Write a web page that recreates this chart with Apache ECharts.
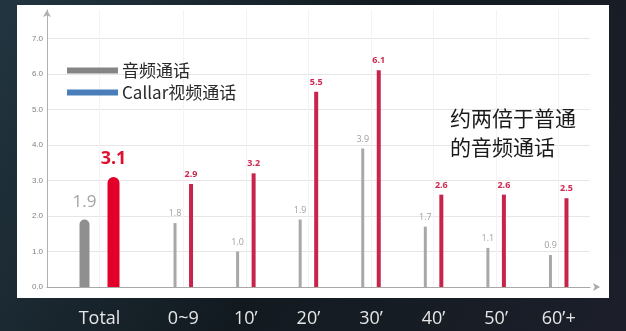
<!DOCTYPE html>
<html><head><meta charset="utf-8">
<script src="https://cdn.jsdelivr.net/npm/echarts@6/dist/echarts.min.js"></script>
<style>html,body{margin:0;padding:0;background:#141d24;}#c{width:626px;height:331px;}</style>
</head><body><div id="c"></div>
<script>
const categoriesTotal = ['Total'];
const categoriesDur = ['0~9', '10’', '20’', '30’', '40’', '50’', '60’+'];
const audioTotal = [1.9];
const videoTotal = [3.1];
const audioDur = [1.8, 1.0, 1.9, 3.9, 1.7, 1.1, 0.9];
const videoDur = [2.9, 3.2, 5.5, 6.1, 2.6, 2.6, 2.5];
const seriesNames = ['音频通话', 'Callar视频通话'];
const noteText = '约两倍于普通\n的音频通话';

const CJK = '"Noto Sans CJK SC", "Noto Sans", sans-serif';
const gridLineColors = ['#e6e6e6','#e6e6e6','#e6e6e6','#e6e6e6','#e6e6e6','#e6e6e6','#e6e6e6','#e6e6e6','rgba(0,0,0,0)'];

const chart = echarts.init(document.getElementById('c'), null, {renderer: 'canvas'});

const yBase = {
  type: 'value', min: 0, max: 7.8, interval: 1,
  splitLine: {show: true, lineStyle: {color: gridLineColors, width: 1}}
};
const xLabel = {color: '#e6e6e6', fontSize: 18, fontFamily: '"Open Sans", "Noto Sans", sans-serif', margin: 23};

chart.setOption({
  backgroundColor: {
    type: 'linear', x: 0, y: 0, x2: 1, y2: 1,
    colorStops: [{offset: 0, color: '#223540'}, {offset: 0.5, color: '#121a20'}, {offset: 1, color: '#1c1f2a'}]
  },
  graphic: [{
    type: 'rect', left: 17, top: 5, z: -10,
    shape: {width: 592, height: 293},
    style: {fill: '#ffffff'}
  }],
  title: {
    text: noteText, left: 445, top: 99,
    textStyle: {fontSize: 21, fontWeight: 'normal', color: '#1a1a1a', lineHeight: 29, fontFamily: CJK}
  },
  legend: {
    orient: 'vertical', left: 62, top: 57, itemGap: 5,
    itemWidth: 51, itemHeight: 6, icon: 'rect',
    textStyle: {fontSize: 17, color: '#2a2a2a', fontFamily: CJK, padding: [0, 0, 0, -1]},
    data: [
      {name: seriesNames[0], itemStyle: {color: '#858585'}},
      {name: seriesNames[1], itemStyle: {color: '#4a7ebb'}}
    ]
  },
  grid: [
    {left: 47, width: 105, top: 10, bottom: 44},
    {left: 152, right: 36, top: 10, bottom: 44}
  ],
  xAxis: [
    {type: 'category', gridIndex: 0, data: categoriesTotal,
     axisLine: {lineStyle: {color: '#a8a8a8', width: 1}},
     axisTick: {show: false}, axisLabel: xLabel,
     splitLine: {show: true, alignWithLabel: true, lineStyle: {color: '#f3f3f3'}}},
    {type: 'category', gridIndex: 1, data: categoriesDur,
     axisLine: {lineStyle: {color: '#a8a8a8', width: 1}, symbol: ['none', 'arrow'], symbolSize: [6, 7], symbolOffset: [0, 10]},
     axisTick: {show: false}, axisLabel: xLabel,
     splitLine: {show: true, alignWithLabel: true, lineStyle: {color: '#f3f3f3'}}}
  ],
  yAxis: [
    Object.assign({}, yBase, {gridIndex: 0,
      axisLine: {show: true, lineStyle: {color: '#b0b0b0', width: 1}, symbol: ['none', 'arrow'], symbolSize: [6, 7]},
      axisTick: {show: false},
      axisLabel: {fontSize: 8, color: '#808080', margin: 4,
        formatter: v => (Math.abs(v - Math.round(v)) < 1e-6 ? v.toFixed(1) : '')}}),
    Object.assign({}, yBase, {gridIndex: 1,
      axisLine: {show: false}, axisTick: {show: false}, axisLabel: {show: false}})
  ],
  series: [
    {name: seriesNames[0], type: 'bar', xAxisIndex: 0, yAxisIndex: 0, data: audioTotal,
     barWidth: 10, barGap: '180%',
     itemStyle: {color: '#8f8f8f', borderRadius: [5, 5, 0, 0]},
     label: {show: true, position: 'top', distance: 9, fontSize: 17, color: '#a3a3a3',
             fontFamily: '"Open Sans", sans-serif', formatter: p => p.value.toFixed(1)}},
    {name: seriesNames[1], type: 'bar', xAxisIndex: 0, yAxisIndex: 0, data: videoTotal,
     barWidth: 12, barGap: '180%',
     itemStyle: {color: '#e2002a', borderRadius: [6, 6, 0, 0]},
     label: {show: true, position: 'top', distance: 9, fontSize: 18, fontWeight: 'bold', color: '#e0102f',
             fontFamily: '"Open Sans", sans-serif', formatter: p => p.value.toFixed(1)}},
    {name: seriesNames[0], type: 'bar', xAxisIndex: 1, yAxisIndex: 1, data: audioDur,
     barWidth: 3, barGap: '417%',
     itemStyle: {color: '#a8a8a8'},
     label: {show: true, position: 'top', distance: 5, fontSize: 9, color: '#a0a0a0',
             fontFamily: '"Open Sans", sans-serif', formatter: p => p.value.toFixed(1)}},
    {name: seriesNames[1], type: 'bar', xAxisIndex: 1, yAxisIndex: 1, data: videoDur,
     barWidth: 4, barGap: '417%',
     itemStyle: {color: '#c8244b'},
     label: {show: true, position: 'top', distance: 5, fontSize: 9, fontWeight: 'bold', color: '#cc2a50',
             fontFamily: '"Open Sans", sans-serif', formatter: p => p.value.toFixed(1)}}
  ]
});
</script>
</body></html>
